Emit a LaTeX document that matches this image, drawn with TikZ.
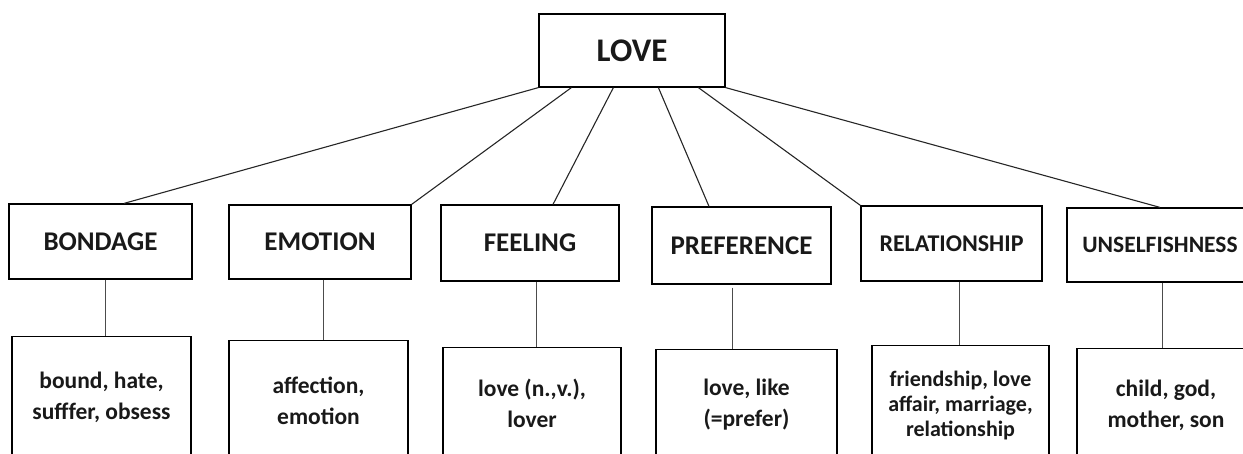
\documentclass[tikz,border=0pt]{standalone}
\usepackage{fontspec}
\setmainfont{Carlito}
\usetikzlibrary{calc}
\begin{document}
\begin{tikzpicture}[x=1pt,y=-1pt,
  box/.style={draw, line width=1.2pt, inner sep=0pt, text=black!90,
    font=\bfseries\fontsize{27}{32}\selectfont},
  leaf/.style={draw, line width=1.2pt, inner sep=0pt, anchor=north, align=center,
    text=black!90, font=\bfseries\fontsize{23.5}{31}\selectfont},
  link/.style={line width=1.1pt, black!85},
  stem/.style={line width=0.9pt, black!70}]
\useasboundingbox (0,0) rectangle (1243,454);
\clip (0,0) rectangle (1243,454);

\node[box, minimum width=186, minimum height=73,
  font=\bfseries\fontsize{33}{38}\selectfont] (love) at (632,50.5) {LOVE};

\node[box, minimum width=183, minimum height=75] (bondage) at (100.5,241.5) {BONDAGE};
\node[box, minimum width=182, minimum height=74] (emotion) at (320,242) {EMOTION};
\node[box, minimum width=178, minimum height=76] (feeling) at (530,243) {FEELING};
\node[box, minimum width=179, minimum height=77] (preference) at (741.5,245.5) {PREFERENCE};
\node[box, minimum width=181, minimum height=75,
  font=\bfseries\fontsize{24}{28}\selectfont] (relationship) at (951.5,243.5) {RELATIONSHIP};
\node[box, minimum width=186, minimum height=74,
  font=\bfseries\fontsize{23.5}{28}\selectfont] (unselfishness) at (1160,245) {UNSELFISHNESS};

\node[leaf, minimum width=179, minimum height=122] (b1) at (101.5,336) {bound, hate,\\sufffer, obsess};
\node[leaf, minimum width=179, minimum height=120] (b2) at (318.5,340) {affection,\\emotion};
\node[leaf, minimum width=178, minimum height=112] (b3) at (532,347) {love (n.,v.),\\lover};
\node[leaf, minimum width=181, minimum height=110] (b4) at (746.5,349) {love, like\\(=prefer)};
\node[leaf, minimum width=177, minimum height=120,
  font=\bfseries\fontsize{22}{25}\selectfont] (b5) at (960.5,345) {friendship, love\\affair, marriage,\\relationship};
\node[leaf, minimum width=178, minimum height=114] (b6) at (1166,348) {child, god,\\mother, son};

% connectors from LOVE
\draw[link] (love.south west) -- ($(bondage.north)+(23.5,0)$);
\draw[link] ($(love.south west)+(33,0)$) -- (emotion.north east);
\draw[link] ($(love.south west)+(75,0)$) -- ($(feeling.north)+(23,0)$);
\draw[link] ($(love.south west)+(120,0)$) -- ($(preference.north)+(-32.5,0)$);
\draw[link] ($(love.south west)+(160,0)$) -- (relationship.north west);
\draw[link] (love.south east) -- (unselfishness.north);

% stems
\coordinate (s1) at ($(bondage.south)+(4.5,0)$);
\coordinate (s2) at ($(emotion.south)+(3,0)$);
\coordinate (s3) at ($(feeling.south)+(6,0)$);
\coordinate (s4) at ($(preference.south)+(-9.5,0)$);
\coordinate (s5) at ($(relationship.south)+(7.5,0)$);
\coordinate (s6) at ($(unselfishness.south)+(2,0)$);
\draw[stem] (s1) -- (s1 |- b1.north);
\draw[stem] (s2) -- (s2 |- b2.north);
\draw[stem] (s3) -- (s3 |- b3.north);
\draw[stem, shorten <=3pt] (s4) -- (s4 |- b4.north);
\draw[stem] (s5) -- (s5 |- b5.north);
\draw[stem] (s6) -- (s6 |- b6.north);
\end{tikzpicture}
\end{document}
